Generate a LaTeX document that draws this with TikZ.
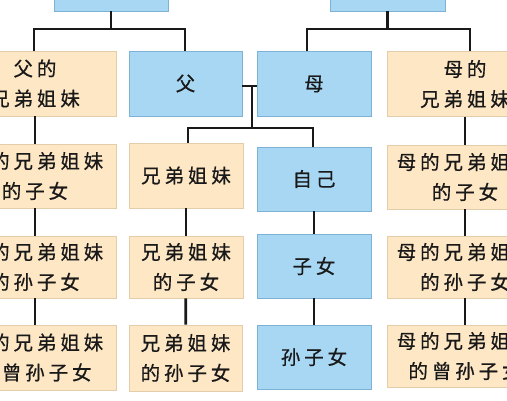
\documentclass[tikz,border=0pt]{standalone}
\usepackage{fontspec}
\newfontfamily\cjk[LetterSpace=20,FakeBold=0.6]{Noto Sans CJK SC}
\definecolor{bfill}{RGB}{168,215,243}
\definecolor{bdraw}{RGB}{125,178,212}
\definecolor{ofill}{RGB}{253,231,197}
\definecolor{odraw}{RGB}{228,206,170}
\definecolor{lk}{RGB}{25,25,25}
\definecolor{txt}{RGB}{25,25,25}
\tikzset{
  box/.style={rectangle, line width=0.9pt, inner sep=0pt, align=center, text=txt,
    font=\cjk\fontsize{19.5}{30}\selectfont},
  bluebox/.style={box, fill=bfill, draw=bdraw},
  orgbox/.style={box, fill=ofill, draw=odraw},
  link/.style={line width=2.8pt, draw=lk}
}
\begin{document}
\begin{tikzpicture}[x=1pt,y=-1pt]
\useasboundingbox (0,0) rectangle (507,400);
\clip (0,0) rectangle (507,400);
\fill[white] (0,0) rectangle (507,400);

% top (cut-off) boxes
\node[bluebox, minimum width=114, minimum height=51] (gf) at (111,-14.5) {};
\node[bluebox, minimum width=115, minimum height=51] (gm) at (387.5,-14.5) {};

% row 1
\node[orgbox, minimum width=162, minimum height=65] (fs1) at (35,83.5) {父的\\兄弟姐妹};
\node[bluebox, minimum width=113, minimum height=65] (f) at (185.5,83.5) {父};
\node[bluebox, minimum width=114, minimum height=65] (m) at (314,84) {母};
\node[orgbox, minimum width=156, minimum height=65] (ms1) at (465,84) {母的\\兄弟姐妹};

% row 2
\node[orgbox, minimum width=162, minimum height=64] (fs2) at (35,176) {父的兄弟姐妹\\的子女};
\node[orgbox, minimum width=114, minimum height=65] (s1) at (186,175.5) {兄弟姐妹};
\node[bluebox, minimum width=114, minimum height=64] (me) at (314,179) {自己};
\node[orgbox, minimum width=156, minimum height=64] (ms2) at (465,177) {母的兄弟姐妹\\的子女};

% row 3
\node[orgbox, minimum width=162, minimum height=62] (fs3) at (35,267) {父的兄弟姐妹\\的孙子女};
\node[orgbox, minimum width=114, minimum height=62] (s2) at (186,267) {兄弟姐妹\\的子女};
\node[bluebox, minimum width=114, minimum height=64] (c) at (314,266) {子女};
\node[orgbox, minimum width=156, minimum height=62] (ms3) at (465,267) {母的兄弟姐妹\\的孙子女};

% row 4
\node[orgbox, minimum width=162, minimum height=65] (fs4) at (35,357.5) {父的兄弟姐妹\\的曾孙子女};
\node[orgbox, minimum width=113, minimum height=66] (s3) at (185.5,358) {兄弟姐妹\\的孙子女};
\node[bluebox, minimum width=114, minimum height=64] (gc) at (314,357) {孙子女};
\node[orgbox, minimum width=156, minimum height=62] (ms4) at (465,356) {母的兄弟姐妹\\的曾孙子女};

% top-left family
\coordinate (a1) at (34,29);
\coordinate (a2) at (185,29);
\draw[link] (gf.south) -- (gf.south |- a1);
\draw[link] (fs1.north -| a1) -- (a1) -- (a2) -- (f.north -| a2);

% top-right family
\coordinate (b1) at (307,29);
\coordinate (b2) at (470,29);
\draw[link] (gm.south) -- (gm.south |- b1);
\draw[link] (m.north -| b1) -- (b1) -- (b2) -- (ms1.north -| b2);

% parents
\coordinate (c0) at (252,86);
\coordinate (c1) at (252,128);
\coordinate (c2) at (188,128);
\coordinate (c3) at (313,128);
\draw[link] (f.east |- c0) -- (m.west |- c0);
\draw[link] (c0) -- (c1);
\draw[link] (s1.north -| c2) -- (c2) -- (c3) -- (me.north -| c3);

% columns
\draw[link] (fs1) -- (fs2);
\draw[link] (fs2) -- (fs3);
\draw[link] (fs3) -- (fs4);
\draw[link] (s1) -- (s2);
\draw[link] (s2) -- (s3);
\draw[link] (me) -- (c);
\draw[link] (c) -- (gc);
\draw[link] (ms1) -- (ms2);
\draw[link] (ms2) -- (ms3);
\draw[link] (ms3) -- (ms4);
\end{tikzpicture}
\end{document}
